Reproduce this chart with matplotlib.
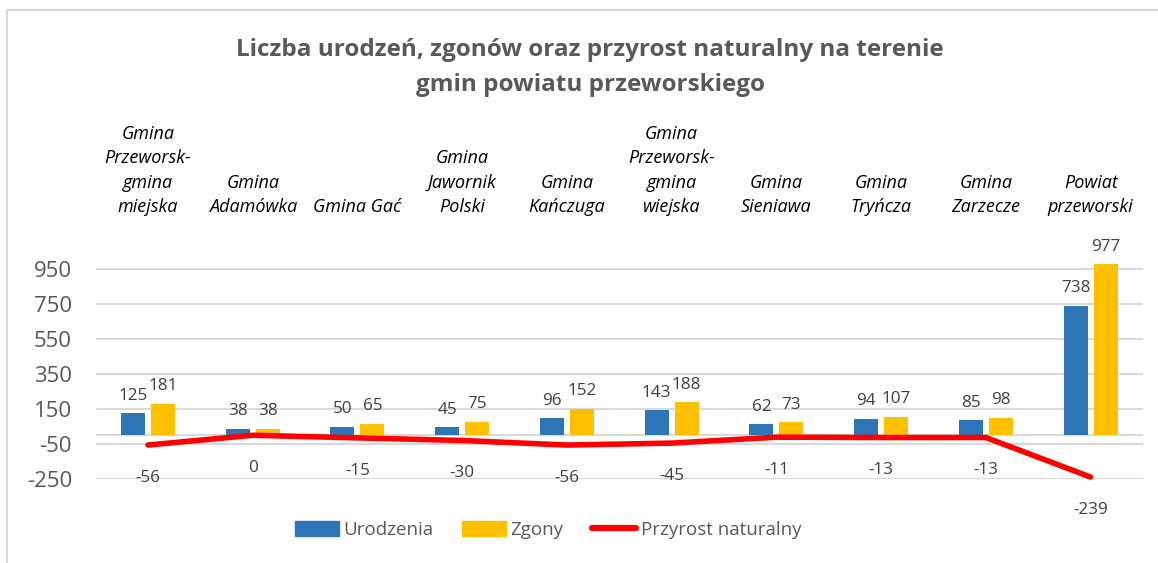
import matplotlib
matplotlib.use("Agg")
import matplotlib.pyplot as plt
from matplotlib.lines import Line2D
from matplotlib.patches import Patch
import numpy as np

categories = ["Gmina\nPrzeworsk-\ngmina\nmiejska", "Gmina\nAdamówka", "Gmina Gać",
              "Gmina\nJawornik\nPolski", "Gmina\nKańczuga", "Gmina\nPrzeworsk-\ngmina\nwiejska",
              "Gmina\nSieniawa", "Gmina\nTryńcza", "Gmina\nZarzecze", "Powiat\nprzeworski"]
urodzenia = [125, 38, 50, 45, 96, 143, 62, 94, 85, 738]
zgony = [181, 38, 65, 75, 152, 188, 73, 107, 98, 977]
przyrost = [-56, 0, -15, -30, -56, -45, -11, -13, -13, -239]
yticks = [-250, -50, 150, 350, 550, 750, 950]

plt.rcParams['font.family'] = ['Open Sans', 'DejaVu Sans']

W, H = 1158, 563
L, R = 95.6, 1143
fig = plt.figure(figsize=(W / 100, H / 100), dpi=100)
ax = fig.add_axes([L / W, (H - 479) / H, (R - L) / W, (479 - 260.25) / H])

x = np.arange(len(categories))
bw = 0.229
off = 0.143
blue, gold, red = "#2E75B6", "#FFC000", "#FF0000"
grid_c = "#D9D9D9"
txt_c = "#595959"
lab_c = "#404040"

ax.set_xlim(-0.5, len(categories) - 0.5)
ax.set_ylim(-250, 1000)
for t in yticks:
    ax.axhline(t, color=grid_c, lw=1.5, zorder=0)
ax.axhline(0, color=grid_c, lw=1.5, zorder=0)

ax.bar(x - off, urodzenia, bw, color=blue, zorder=2, clip_on=False)
ax.bar(x + off, zgony, bw, color=gold, zorder=2, clip_on=False)
ax.plot(x, przyrost, color=red, lw=4, solid_capstyle='round', solid_joinstyle='round',
        zorder=3, clip_on=False)

for i in range(len(categories)):
    ax.annotate(str(urodzenia[i]), (x[i] - off, urodzenia[i]), xytext=(0, 7), textcoords='offset points',
                ha='center', va='bottom', fontsize=12.3, color=lab_c, annotation_clip=False)
    ax.annotate(str(zgony[i]), (x[i] + off, zgony[i]), xytext=(0, 7), textcoords='offset points',
                ha='center', va='bottom', fontsize=12.3, color=lab_c, annotation_clip=False)
    ax.annotate(str(przyrost[i]), (x[i], przyrost[i]), xytext=(0, -23.5), textcoords='offset points',
                ha='center', va='center', fontsize=12.3, color=lab_c, annotation_clip=False)

for s in ax.spines.values():
    s.set_visible(False)
ax.set_xticks([])
ax.set_yticks(yticks)
ax.set_yticklabels([str(t) for t in yticks], fontsize=16, color=txt_c)
ax.tick_params(axis='y', length=0, pad=17)

# category labels at top
for i in range(len(categories)):
    xf = (L + (i + 0.5) * (R - L) / len(categories)) / W
    fig.text(xf, (H - 216) / H, categories[i], ha='center', va='bottom', fontsize=13,
             style='italic', color='black', linespacing=1.45)

fig.text(590 / W, (H - 50) / H, "Liczba urodzeń, zgonów oraz przyrost naturalny na terenie",
         ha='center', va='center', fontsize=17.5, fontweight='bold', color=txt_c)
fig.text(590 / W, (H - 85) / H, "gmin powiatu przeworskiego",
         ha='center', va='center', fontsize=17.5, fontweight='bold', color=txt_c)

handles = [Patch(color=blue), Patch(color=gold),
           Line2D([0], [0], color=red, lw=4.5, solid_capstyle='round')]
fig.legend(handles, ["Urodzenia", "Zgony", "Przyrost naturalny"], loc='center', ncol=3,
           bbox_to_anchor=(548 / W, (H - 530) / H), frameon=False, fontsize=13.5,
           labelcolor=txt_c, handlelength=2.35, handleheight=0.85, handletextpad=0.25,
           columnspacing=1.5)

# outer chart frame (partially clipped)
fig.add_artist(Line2D([7 / W, 7 / W], [0, (H - 10) / H], color=grid_c, lw=1.5, transform=fig.transFigure))
fig.add_artist(Line2D([7 / W, 1], [(H - 10) / H, (H - 10) / H], color=grid_c, lw=1.5, transform=fig.transFigure))

fig.savefig("out.png", dpi=100, facecolor='white')
